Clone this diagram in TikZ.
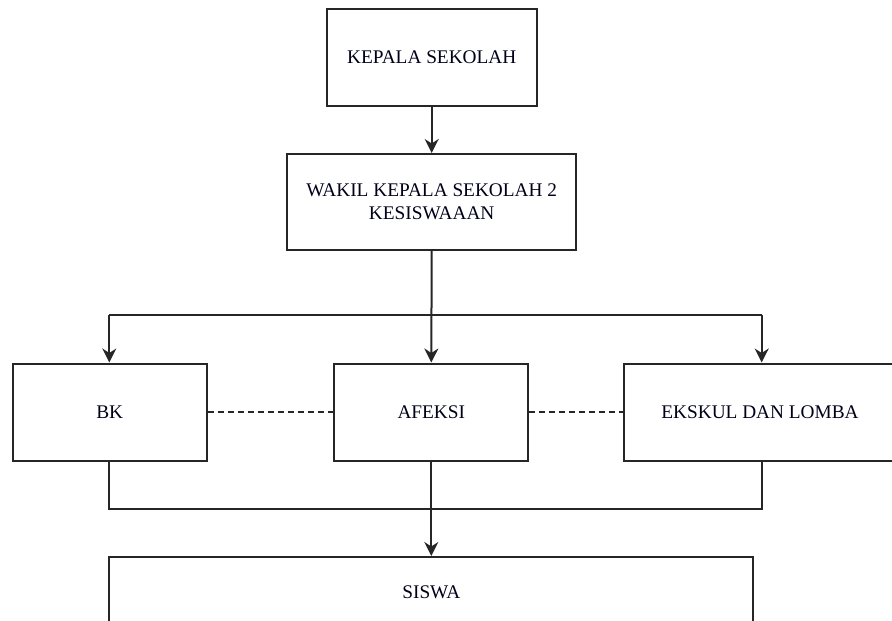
\documentclass[tikz,border=0pt]{standalone}
\usepackage{fontspec}
\setmainfont{Liberation Serif}
\usetikzlibrary{arrows.meta}
\begin{document}
\begin{tikzpicture}[x=1pt,y=-1pt,
  box/.style={draw=black!85, line width=2pt, minimum width=#1, inner sep=0pt, align=center,
    font=\fontsize{19.3}{22.5}\selectfont, text=black!90!blue},
  conn/.style={draw=black!85, line width=2pt},
  arr/.style={conn, -{Stealth[length=14pt,width=14pt,inset=4.5pt]}}]
\useasboundingbox (0,0) rectangle (892,621);
\clip (0,0) rectangle (892,621);
\node[box=210pt, minimum height=97pt] (kepala) at (431.7,57.2) {KEPALA SEKOLAH};
\node[box=289pt, minimum height=96pt] (wakil) at (431.7,202) {WAKIL KEPALA SEKOLAH 2\\KESISWAAAN};
\node[box=194pt, minimum height=97pt] (bk) at (109.7,412) {BK};
\node[box=194pt, minimum height=97pt] (afeksi) at (431.3,412) {AFEKSI};
\node[box=272pt, minimum height=97pt] (ekskul) at (760,412) {EKSKUL DAN LOMBA};
\node[box=644pt, minimum height=70pt] (siswa) at (431.3,592) {SISWA};
\coordinate (tl) at (109.3,315);
\coordinate (tr) at (761.7,315);
\coordinate (bl) at (109.3,508.7);
\coordinate (br) at (761.7,508.7);
\draw[arr] (kepala.south) -- (wakil.north);
\draw[arr] (wakil.south) -- (afeksi.north);
\draw[arr] (tl) -- (bk.north -| tl);
\draw[arr] (tr) -- (ekskul.north -| tr);
\draw[conn] (tl) -- (tr);
\draw[conn] (bk.south -| bl) -- (bl) -- (br) -- (ekskul.south -| br);
\draw[arr] (afeksi.south) -- (siswa.north);
\draw[conn, line width=1.6pt, dash pattern=on 6pt off 4pt] (bk.east) -- (afeksi.west);
\draw[conn, line width=1.6pt, dash pattern=on 6pt off 4pt] (afeksi.east) -- (ekskul.west);
\end{tikzpicture}
\end{document}
